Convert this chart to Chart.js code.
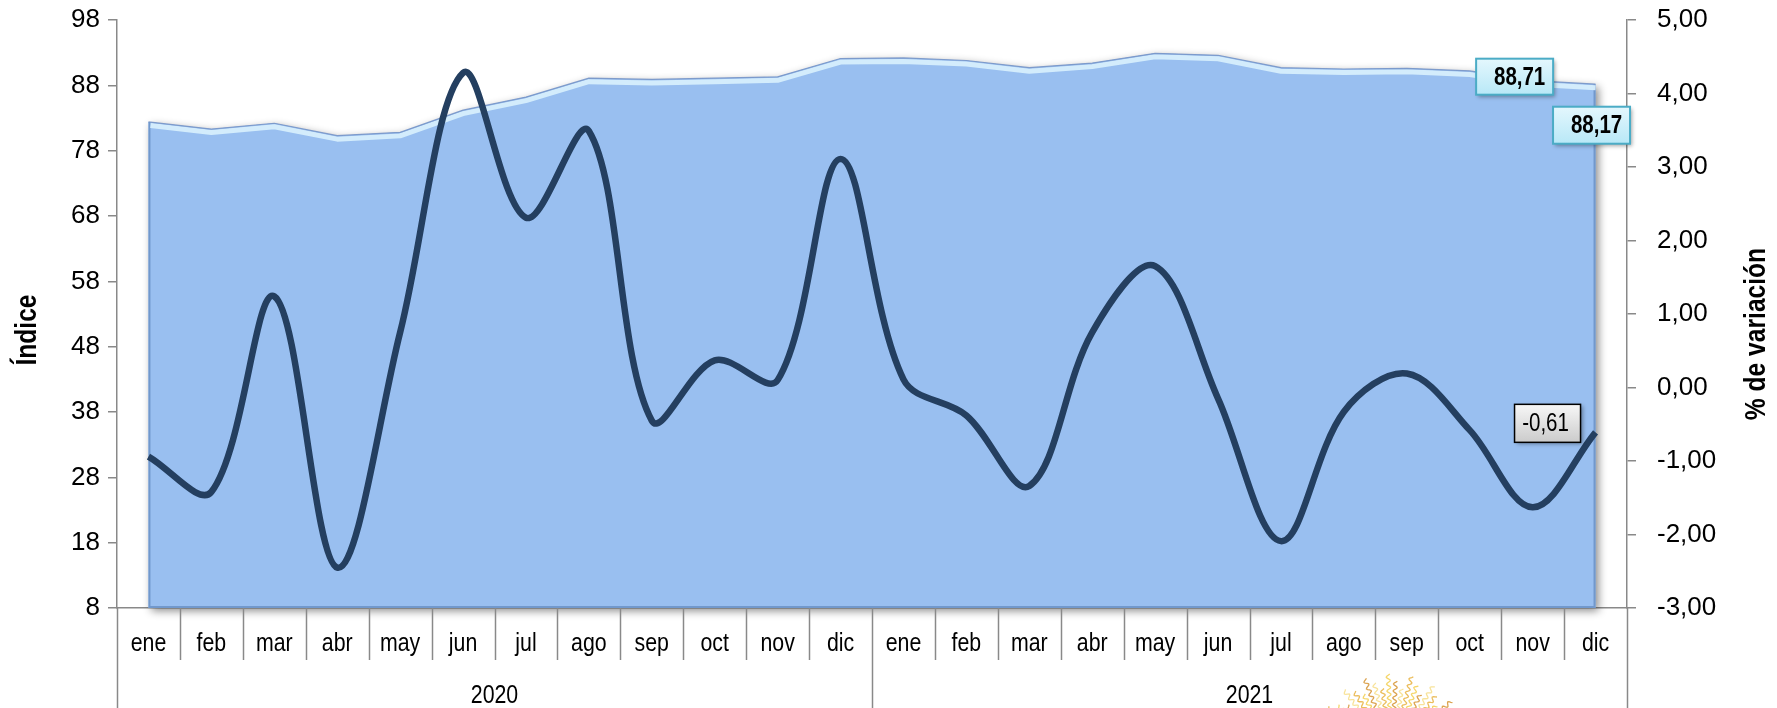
<!DOCTYPE html>
<html>
<head>
<meta charset="utf-8">
<script src="https://cdn.jsdelivr.net/npm/chart.js@4.4.1/dist/chart.umd.min.js"></script>
<style>
    html, body { margin: 0; padding: 0; background: #fff; }
    #wrap { width: 1777px; height: 708px; }
</style>
</head>
<body>
<div id="wrap"><canvas id="indiceChart" width="1777" height="708"></canvas></div>
<script>
// Data
const months = ['ene', 'feb', 'mar', 'abr', 'may', 'jun', 'jul', 'ago', 'sep', 'oct', 'nov', 'dic',
                'ene', 'feb', 'mar', 'abr', 'may', 'jun', 'jul', 'ago', 'sep', 'oct', 'nov', 'dic'];
const years = ['2020', '2021'];
const indexValues = [82.4, 81.3, 82.2, 80.3, 80.8, 84.2, 86.2, 89.1, 88.9, 89.1, 89.3, 92.1,
                     92.2, 91.8, 90.7, 91.4, 92.9, 92.6, 90.7, 90.5, 90.6, 90.2, 88.71, 88.17];
const variationValues = [-0.94, -1.42, 1.24, -2.45, 0.75, 4.28, 2.31, 3.49, -0.45, 0.37, 0.10, 3.11,
                         0.11, -0.38, -1.34, 0.75, 1.65, -0.15, -2.09, -0.33, 0.19, -0.58, -1.63, -0.61];
const indexTicks = [8, 18, 28, 38, 48, 58, 68, 78, 88, 98];
const variationTicks = [-3, -2, -1, 0, 1, 2, 3, 4, 5];

const sans = "'Liberation Sans', Arial, sans-serif";
const axisGray = '#898989';
const fmt = v => v.toFixed(2).replace('.', ',');

// Arial Narrow look-alike: Liberation Sans squeezed horizontally
function narrowText(ctx, text, x, y, font, rotate) {
    ctx.save();
    ctx.translate(x, y);
    if (rotate) ctx.rotate(-Math.PI / 2);
    ctx.scale(0.82, 1);
    ctx.font = font;
    ctx.fillStyle = '#000';
    ctx.textAlign = 'center';
    ctx.textBaseline = 'middle';
    ctx.fillText(text, 0, 0);
    ctx.restore();
}

// Shadow and bevel of the area
const areaShadow = {
    id: 'areaShadow',
    beforeDatasetsDraw(chart) {
        const pts = chart.getDatasetMeta(1).data;
        const bottom = chart.scales.yIdx.getPixelForValue(indexTicks[0]);
        const ctx = chart.ctx;
        ctx.save();
        ctx.beginPath();
        ctx.moveTo(pts[0].x, bottom);
        pts.forEach(p => ctx.lineTo(p.x, p.y));
        ctx.lineTo(pts[pts.length - 1].x, bottom);
        ctx.closePath();
        ctx.shadowColor = 'rgba(0,0,0,0.45)';
        ctx.shadowBlur = 8;
        ctx.shadowOffsetX = 3;
        ctx.shadowOffsetY = 3;
        ctx.fillStyle = '#99bff0';
        ctx.fill();
        ctx.restore();
    },
    afterDatasetDraw(chart, args) {
        if (args.index !== 1) return;
        const pts = chart.getDatasetMeta(1).data;
        const bottom = chart.scales.yIdx.getPixelForValue(indexTicks[0]);
        const ctx = chart.ctx;
        ctx.save();
        // edges
        ctx.strokeStyle = 'rgba(80,120,175,0.55)';
        ctx.lineWidth = 2;
        ctx.beginPath();
        ctx.moveTo(pts[0].x + 1, pts[0].y);
        ctx.lineTo(pts[0].x + 1, bottom - 1);
        ctx.lineTo(pts[pts.length - 1].x - 1, bottom - 1);
        ctx.lineTo(pts[pts.length - 1].x - 1, pts[pts.length - 1].y);
        ctx.stroke();
        // light band just under the top surface
        ctx.strokeStyle = 'rgba(214,238,252,0.95)';
        ctx.lineWidth = 5;
        ctx.lineJoin = 'round';
        ctx.beginPath();
        pts.forEach((p, i) => i ? ctx.lineTo(p.x, p.y + 3.5) : ctx.moveTo(p.x + 2, p.y + 3.5));
        ctx.stroke();
        // thin outline on the top surface
        ctx.strokeStyle = 'rgba(120,150,200,0.9)';
        ctx.lineWidth = 1.2;
        ctx.beginPath();
        pts.forEach((p, i) => i ? ctx.lineTo(p.x, p.y) : ctx.moveTo(p.x, p.y));
        ctx.stroke();
        ctx.restore();
    }
};

// Tick labels of both value axes
const axisLabels = {
    id: 'axisLabels',
    afterDraw(chart) {
        const ctx = chart.ctx;
        const {yIdx, yVar} = chart.scales;
        ctx.save();
        ctx.fillStyle = '#000';
        ctx.font = '26px ' + sans;
        ctx.textBaseline = 'middle';
        ctx.textAlign = 'right';
        indexTicks.forEach(v => ctx.fillText(String(v), yIdx.right - 17, yIdx.getPixelForValue(v)));
        ctx.textAlign = 'left';
        variationTicks.forEach(v => ctx.fillText(fmt(v), yVar.left + 30, yVar.getPixelForValue(v)));
        ctx.restore();
    }
};

// Month labels, separators and year row
const multiLevelAxis = {
    id: 'multiLevelAxis',
    afterDraw(chart) {
        const ctx = chart.ctx;
        const area = chart.chartArea;
        const xs = chart.scales.x;
        const n = months.length;
        const w = (area.right - area.left) / n;
        ctx.save();
        ctx.strokeStyle = axisGray;
        ctx.lineWidth = 1.5;
        for (let i = 0; i <= n; i++) {
            const x = Math.round(area.left + i * w) + 0.5;
            ctx.beginPath();
            ctx.moveTo(x, area.bottom);
            ctx.lineTo(x, i % 12 === 0 ? chart.height : area.bottom + 52);
            ctx.stroke();
        }
        ctx.restore();
        months.forEach((m, i) => narrowText(ctx, m, xs.getPixelForValue(i), 644, '26px ' + sans));
        years.forEach((y, k) => narrowText(ctx, y, area.left + (k * 12 + 6) * w, 696, '26px ' + sans));
    }
};

// Rotated axis titles
const axisTitles = {
    id: 'axisTitles',
    afterDraw(chart) {
        const ctx = chart.ctx;
        const mid = (chart.chartArea.top + chart.chartArea.bottom) / 2 + 16;
        narrowText(ctx, 'Índice', 28, mid, 'bold 30px ' + sans, true);
        narrowText(ctx, '% de variación', 1757, mid + 4, 'bold 30px ' + sans, true);
    }
};

function drawBox(ctx, cx, cy, w, h, text, opts) {
    const x = cx - w / 2, y = cy - h / 2;
    ctx.save();
    ctx.shadowColor = 'rgba(0,0,0,0.35)';
    ctx.shadowBlur = 4;
    ctx.shadowOffsetX = 2;
    ctx.shadowOffsetY = 2;
    const g = ctx.createLinearGradient(0, y, 0, y + h);
    g.addColorStop(0, opts.top);
    g.addColorStop(1, opts.bottom);
    ctx.fillStyle = g;
    ctx.fillRect(x, y, w, h);
    ctx.restore();
    ctx.save();
    ctx.strokeStyle = opts.border;
    ctx.lineWidth = opts.borderWidth;
    ctx.strokeRect(x, y, w, h);
    ctx.restore();
    narrowText(ctx, text, cx + opts.shift, cy + 1, opts.font);
}

// Value boxes on the last points
const valueLabels = {
    id: 'valueLabels',
    afterDatasetsDraw(chart) {
        const ctx = chart.ctx;
        const idx = chart.getDatasetMeta(1).data;
        const vr = chart.getDatasetMeta(0).data;
        const last = months.length - 1;
        const cyan = { top: '#e4f7fd', bottom: '#b8e8f7', border: '#4bacc6', borderWidth: 2,
                       font: 'bold 25px ' + sans, shift: 5 };
        const gray = { top: '#f7f7f7', bottom: '#cbcbcb', border: '#000', borderWidth: 1.5,
                       font: '25px ' + sans, shift: -2 };
        drawBox(ctx, idx[last - 1].x - 18, idx[last - 1].y - 4, 77, 36, fmt(indexValues[last - 1]), cyan);
        drawBox(ctx, idx[last].x - 4, idx[last].y + 41, 77, 37, fmt(indexValues[last]), cyan);
        drawBox(ctx, vr[last].x - 48, vr[last].y - 9, 66, 38, fmt(variationValues[last]), gray);
    }
};

// Small sun logo at the bottom edge
const sunLogo = {
    id: 'sunLogo',
    afterDraw(chart) {
        const ctx = chart.ctx;
        const cx = 1392, cy = 752;
        const cols = ['#f5d66a', '#dca451', '#f8e39a', '#ebbd5c'];
        ctx.save();
        ctx.lineWidth = 1.3;
        for (let k = 0; k < 26; k++) {
            const a = -Math.PI + 0.3 + k * (Math.PI - 0.6) / 25;
            const r0 = 40, r1 = 78 - (k % 3) * 7;
            ctx.strokeStyle = cols[k % cols.length];
            ctx.beginPath();
            for (let r = r0; r <= r1; r += 1) {
                const off = Math.sin(r * 0.9) * 2;
                const x = cx + Math.cos(a) * r - Math.sin(a) * off;
                const y = cy + Math.sin(a) * r + Math.cos(a) * off;
                if (r === r0) ctx.moveTo(x, y); else ctx.lineTo(x, y);
            }
            ctx.stroke();
        }
        ctx.restore();
    }
};

const ctx = document.getElementById('indiceChart');
new Chart(ctx, {
    type: 'line',
    data: {
        labels: months,
        datasets: [
            {
                label: '% de variación',
                data: variationValues,
                yAxisID: 'yVar',
                borderColor: '#243f60',
                borderWidth: 6.5,
                tension: 0.35,
                pointRadius: 0,
                fill: false,
                order: 1
            },
            {
                label: 'Índice',
                data: indexValues,
                yAxisID: 'yIdx',
                borderColor: 'rgba(0,0,0,0)',
                borderWidth: 0,
                backgroundColor: '#99bff0',
                fill: 'start',
                tension: 0,
                pointRadius: 0,
                order: 2
            }
        ]
    },
    options: {
        responsive: false,
        animation: false,
        layout: { padding: { top: 20, left: 0, right: 0, bottom: 0 } },
        plugins: {
            legend: { display: false },
            tooltip: { enabled: false }
        },
        scales: {
            x: {
                offset: true,
                grid: { display: false, drawTicks: false },
                border: { color: axisGray, width: 1.5 },
                ticks: { display: false },
                afterFit: s => { s.height = 100; }
            },
            yIdx: {
                position: 'left',
                min: indexTicks[0],
                max: indexTicks[indexTicks.length - 1],
                afterBuildTicks: s => { s.ticks = indexTicks.map(v => ({ value: v })); },
                grid: { drawOnChartArea: false, tickLength: 9, color: axisGray, lineWidth: 1.5 },
                border: { color: axisGray, width: 1.5 },
                ticks: { display: false, padding: 0 },
                afterFit: s => { s.width = 117; }
            },
            yVar: {
                position: 'right',
                min: variationTicks[0],
                max: variationTicks[variationTicks.length - 1],
                afterBuildTicks: s => { s.ticks = variationTicks.map(v => ({ value: v })); },
                grid: { drawOnChartArea: false, tickLength: 9, color: axisGray, lineWidth: 1.5 },
                border: { color: axisGray, width: 1.5 },
                ticks: { display: false, padding: 0 },
                afterFit: s => { s.width = 150; }
            }
        }
    },
    plugins: [areaShadow, axisLabels, multiLevelAxis, axisTitles, valueLabels, sunLogo]
});
</script>
</body>
</html>
